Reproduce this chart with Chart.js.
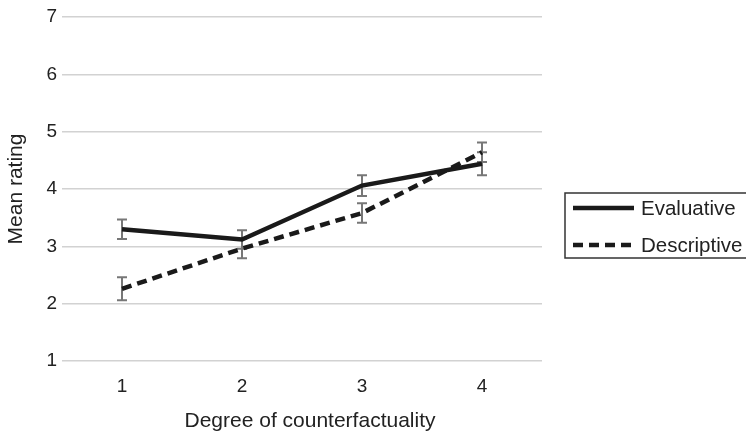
<!DOCTYPE html>
<html lang="en">
<head>
    <meta charset="UTF-8">
    <title>Mean rating by degree of counterfactuality</title>
    <script src="https://cdn.jsdelivr.net/npm/chart.js"></script>
    <style>
        body {
            margin: 0;
            background: #fff;
        }
        .wrap {
            width: 746px;
            height: 437px;
        }
    </style>
</head>
<body>
    <div class="wrap"><canvas id="ratingChart"></canvas></div>

    <script>
        const categories = ['1', '2', '3', '4'];
        const evaluative = [3.30, 3.12, 4.06, 4.44];
        const evaluativeErr = [0.17, 0.16, 0.18, 0.20];
        const descriptive = [2.26, 2.96, 3.58, 4.64];
        const descriptiveErr = [0.20, 0.17, 0.17, 0.17];
        const yTicks = [1, 2, 3, 4, 5, 6, 7];
        const xTitle = 'Degree of counterfactuality';

        const fontFamily = '"Liberation Sans", Arial, Helvetica, sans-serif';
        const textColor = '#222';

        // error bars drawn under the lines, through the chart's own scales
        const errorBars = {
            id: 'errorBars',
            beforeDatasetsDraw(chart) {
                const ctx = chart.ctx;
                const x = chart.scales.x;
                const y = chart.scales.y;
                const sets = [[evaluative, evaluativeErr], [descriptive, descriptiveErr]];
                ctx.save();
                ctx.strokeStyle = '#777';
                ctx.lineWidth = 2;
                sets.forEach(([vals, errs]) => {
                    vals.forEach((v, i) => {
                        const px = x.getPixelForValue(i);
                        const top = y.getPixelForValue(v + errs[i]);
                        const bot = y.getPixelForValue(v - errs[i]);
                        ctx.beginPath();
                        ctx.moveTo(px, top); ctx.lineTo(px, bot);
                        ctx.moveTo(px - 5, top); ctx.lineTo(px + 5, top);
                        ctx.moveTo(px - 5, bot); ctx.lineTo(px + 5, bot);
                        ctx.stroke();
                    });
                });
                ctx.restore();
            }
        };

        // boxed legend on the right (cut by the canvas edge) + x axis title
        const boxLegend = {
            id: 'boxLegend',
            afterDraw(chart) {
                const ctx = chart.ctx;
                const area = chart.chartArea;
                ctx.save();
                ctx.fillStyle = textColor;
                ctx.font = '21px ' + fontFamily;
                ctx.textAlign = 'center';
                ctx.textBaseline = 'middle';
                ctx.fillText(xTitle, (area.left + area.right) / 2 + 8, 421);

                ctx.textAlign = 'left';
                ctx.strokeStyle = '#333';
                ctx.lineWidth = 1.5;
                ctx.strokeRect(565, 193, 200, 65);
                chart.data.datasets.forEach((ds, i) => {
                    const ly = 208 + i * 37;
                    ctx.strokeStyle = ds.borderColor;
                    ctx.lineWidth = ds.borderWidth;
                    ctx.setLineDash(ds.borderDash || []);
                    ctx.beginPath();
                    ctx.moveTo(573, ly);
                    ctx.lineTo(634, ly);
                    ctx.stroke();
                    ctx.setLineDash([]);
                    ctx.font = '20.5px ' + fontFamily;
                    ctx.fillText(ds.label, 641, ly + 1);
                });
                ctx.restore();
            }
        };

        new Chart(document.getElementById('ratingChart'), {
            type: 'line',
            data: {
                labels: categories,
                datasets: [
                    {
                        label: 'Evaluative',
                        data: evaluative,
                        borderColor: '#1a1a1a',
                        borderWidth: 4.5,
                        pointRadius: 0,
                        tension: 0
                    },
                    {
                        label: 'Descriptive',
                        data: descriptive,
                        borderColor: '#1a1a1a',
                        borderWidth: 4.5,
                        borderDash: [10, 6],
                        pointRadius: 0,
                        tension: 0
                    }
                ]
            },
            options: {
                responsive: true,
                maintainAspectRatio: false,
                animation: false,
                layout: { padding: { top: 17, right: 204, left: 0, bottom: 0 } },
                plugins: {
                    legend: { display: false },
                    tooltip: { enabled: false }
                },
                scales: {
                    x: {
                        offset: true,
                        grid: { display: false, drawTicks: false },
                        border: { display: false },
                        ticks: {
                            color: textColor,
                            padding: 14,
                            font: { family: fontFamily, size: 19 }
                        },
                        afterFit(scale) { scale.height = 76; }
                    },
                    y: {
                        min: 1,
                        max: 7,
                        grid: { color: '#d2d2d2', lineWidth: 1.5, drawTicks: false },
                        border: { display: false },
                        afterBuildTicks(scale) {
                            scale.ticks = yTicks.map(v => ({ value: v }));
                        },
                        ticks: {
                            color: textColor,
                            padding: 5,
                            font: { family: fontFamily, size: 19 }
                        },
                        title: {
                            display: true,
                            text: 'Mean rating',
                            color: textColor,
                            font: { family: fontFamily, size: 21 }
                        },
                        afterFit(scale) { scale.width = 62; }
                    }
                }
            },
            plugins: [errorBars, boxLegend]
        });
    </script>
</body>
</html>
